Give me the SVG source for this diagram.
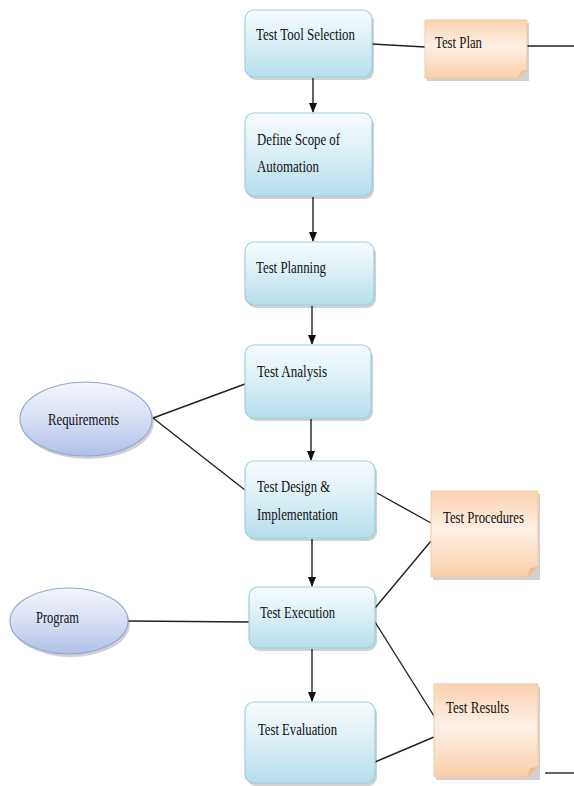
<svg xmlns="http://www.w3.org/2000/svg" width="574" height="786" viewBox="0 0 574 786">
<style>
text{font-family:"Liberation Serif","Times New Roman",serif;font-size:16px;fill:#111}
.box{fill:url(#gb);stroke:#9ccfe0;stroke-width:1.2}
.note{fill:url(#go);stroke:#f2c9a5;stroke-width:1}
.ell{fill:url(#ge);stroke:#93a7d9;stroke-width:1.2}
.sh{fill:#000;opacity:0.18}
.ln{stroke:#222;stroke-width:1.4;fill:none}
.ar{stroke:#222;stroke-width:1.4;fill:none;marker-end:url(#ah)}
</style>
<defs>
<linearGradient id="gb" x1="0" y1="0" x2="0" y2="1"><stop offset="0" stop-color="#f7fbfd"/><stop offset="0.45" stop-color="#ddf0f6"/><stop offset="1" stop-color="#b5dfec"/></linearGradient>
<linearGradient id="go" x1="0" y1="0" x2="0" y2="1"><stop offset="0" stop-color="#fbd2ae"/><stop offset="0.45" stop-color="#fdf0e6"/><stop offset="1" stop-color="#fbcfa9"/></linearGradient>
<linearGradient id="ge" x1="0" y1="0" x2="0" y2="1"><stop offset="0" stop-color="#f4f6fc"/><stop offset="0.5" stop-color="#d8dff4"/><stop offset="1" stop-color="#b0bfe8"/></linearGradient>
<marker id="ah" markerWidth="10" markerHeight="12" refX="9" refY="5" orient="auto" markerUnits="userSpaceOnUse"><path d="M0,1 L10,5 L0,9 Z" fill="#111"/></marker>
</defs>
<g id="connectors">
<line class="ln" x1="372" y1="44" x2="425" y2="47"/>
<line class="ln" x1="527" y1="46" x2="574" y2="46"/>
<line class="ar" x1="313" y1="78" x2="313" y2="112"/>
<line class="ar" x1="313" y1="197" x2="313" y2="241"/>
<line class="ar" x1="312" y1="306" x2="312" y2="344"/>
<line class="ar" x1="311" y1="419" x2="311" y2="460"/>
<line class="ar" x1="312" y1="539" x2="312" y2="586"/>
<line class="ar" x1="312" y1="649" x2="312" y2="701"/>
<line class="ln" x1="153" y1="418" x2="245" y2="384"/>
<line class="ln" x1="153" y1="418" x2="245" y2="490"/>
<line class="ln" x1="377" y1="493" x2="431" y2="523"/>
<line class="ln" x1="375" y1="608" x2="431" y2="541"/>
<line class="ln" x1="128" y1="621" x2="249" y2="622"/>
<line class="ln" x1="375" y1="622" x2="434" y2="716"/>
<line class="ln" x1="375" y1="762" x2="434" y2="737"/>
<line class="ln" x1="545" y1="773" x2="574" y2="773"/>
</g>
<g id="test-tool-selection">
<rect class="sh" x="247" y="13" width="127" height="67" rx="9"/>
<rect class="box" x="245" y="10" width="127" height="67" rx="9"/>
<text x="256" y="40" textLength="99" lengthAdjust="spacingAndGlyphs">Test Tool Selection</text>
</g>
<g id="test-plan">
<rect class="sh" x="427" y="23" width="102" height="58"/>
<path class="note" d="M425,20 H527 V70 L519,78 H425 Z"/>
<path d="M519,78 L521,72 L527,70" fill="#e8c0a0" stroke="#e5b995" stroke-width="0.8"/>
<text x="435" y="48" textLength="47" lengthAdjust="spacingAndGlyphs">Test Plan</text>
</g>
<g id="define-scope">
<rect class="sh" x="247" y="116" width="127" height="83" rx="9"/>
<rect class="box" x="245" y="113" width="127" height="83" rx="9"/>
<text x="257" y="145" textLength="83" lengthAdjust="spacingAndGlyphs">Define Scope of</text>
<text x="257" y="172" textLength="62" lengthAdjust="spacingAndGlyphs">Automation</text>
</g>
<g id="test-planning">
<rect class="sh" x="247" y="245" width="129" height="63" rx="9"/>
<rect class="box" x="245" y="242" width="129" height="63" rx="9"/>
<text x="256" y="273" textLength="70" lengthAdjust="spacingAndGlyphs">Test Planning</text>
</g>
<g id="test-analysis">
<rect class="sh" x="247" y="348" width="126" height="73" rx="9"/>
<rect class="box" x="245" y="345" width="126" height="73" rx="9"/>
<text x="257" y="377" textLength="70" lengthAdjust="spacingAndGlyphs">Test Analysis</text>
</g>
<g id="requirements">
<ellipse class="sh" cx="88" cy="422" rx="66" ry="37"/>
<ellipse class="ell" cx="86" cy="419" rx="66" ry="37"/>
<text x="48" y="425" textLength="71" lengthAdjust="spacingAndGlyphs">Requirements</text>
</g>
<g id="test-design">
<rect class="sh" x="247" y="464" width="130" height="77" rx="9"/>
<rect class="box" x="245" y="461" width="130" height="77" rx="9"/>
<text x="257" y="492" textLength="73" lengthAdjust="spacingAndGlyphs">Test Design &amp;</text>
<text x="257" y="520" textLength="81" lengthAdjust="spacingAndGlyphs">Implementation</text>
</g>
<g id="test-procedures">
<rect class="sh" x="433" y="494" width="107" height="86"/>
<path class="note" d="M431,491 H538 V567 L528,577 H431 Z"/>
<path d="M528,577 L530,569 L538,567" fill="#e8c0a0" stroke="#e5b995" stroke-width="0.8"/>
<text x="443" y="523" textLength="81" lengthAdjust="spacingAndGlyphs">Test Procedures</text>
</g>
<g id="program">
<ellipse class="sh" cx="71" cy="624" rx="59" ry="33"/>
<ellipse class="ell" cx="69" cy="621" rx="59" ry="33"/>
<text x="36" y="623" textLength="43" lengthAdjust="spacingAndGlyphs">Program</text>
</g>
<g id="test-execution">
<rect class="sh" x="251" y="590" width="126" height="61" rx="9"/>
<rect class="box" x="249" y="587" width="126" height="61" rx="9"/>
<text x="260" y="618" textLength="75" lengthAdjust="spacingAndGlyphs">Test Execution</text>
</g>
<g id="test-evaluation">
<rect class="sh" x="247" y="705" width="130" height="81" rx="9"/>
<rect class="box" x="245" y="702" width="130" height="81" rx="9"/>
<text x="258" y="735" textLength="79" lengthAdjust="spacingAndGlyphs">Test Evaluation</text>
</g>
<g id="test-results">
<rect class="sh" x="436" y="687" width="104" height="93"/>
<path class="note" d="M434,684 H538 V767 L528,777 H434 Z"/>
<path d="M528,777 L530,769 L538,767" fill="#e8c0a0" stroke="#e5b995" stroke-width="0.8"/>
<text x="446" y="713" textLength="63" lengthAdjust="spacingAndGlyphs">Test Results</text>
</g>
</svg>
